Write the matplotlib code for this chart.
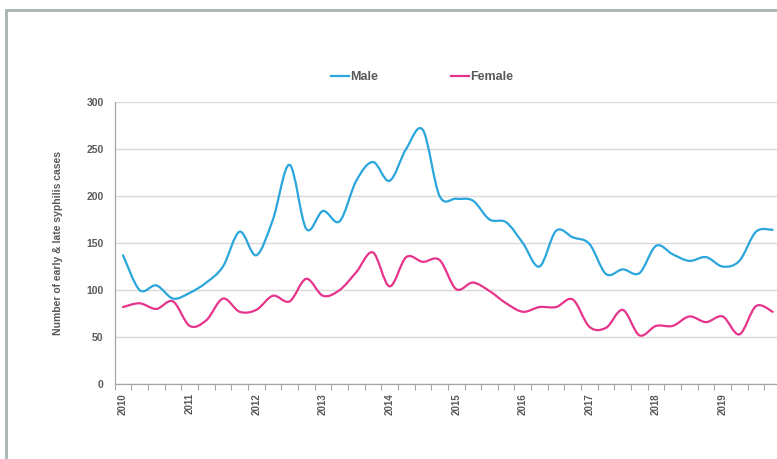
import matplotlib
matplotlib.use("Agg")
import matplotlib.pyplot as plt
import numpy as np
from matplotlib.path import Path
from matplotlib.patches import PathPatch, Rectangle
from matplotlib.lines import Line2D

years = [str(y) for y in range(2010, 2020)]
male = [137, 100, 105, 91, 97, 108, 125, 162, 137, 175,
        233, 165, 184, 173, 216, 236, 216, 250, 270, 200,
        197, 195, 175, 172, 150, 125, 163, 156, 149, 117,
        122, 118, 147, 138, 131, 135, 125, 131, 162, 164]
female = [82, 86, 80, 88, 62, 68, 91, 77, 79, 94,
          88, 112, 94, 100, 119, 140, 104, 135, 130, 132,
          101, 108, 99, 86, 77, 82, 82, 90, 61, 60,
          79, 52, 62, 62, 72, 66, 72, 53, 83, 77]

male_col = "#2ba6dc"
female_col = "#e6338b"
txt = "#595959"
plt.rcParams['font.family'] = ['Liberation Sans', 'DejaVu Sans']


def smooth_path(ys):
    # excel-style smoothed line: cubic bezier through each point
    x = np.arange(len(ys), dtype=float)
    y = np.asarray(ys, dtype=float)
    n = len(y)
    verts = [(x[0], y[0])]
    codes = [Path.MOVETO]
    for i in range(n - 1):
        a = max(i - 1, 0)
        b = min(i + 2, n - 1)
        c1 = (x[i] + (x[i + 1] - x[a]) / 6, y[i] + (y[i + 1] - y[a]) / 6)
        c2 = (x[i + 1] - (x[b] - x[i]) / 6, y[i + 1] - (y[b] - y[i]) / 6)
        verts += [c1, c2, (x[i + 1], y[i + 1])]
        codes += [Path.CURVE4] * 3
    return Path(verts, codes)


fig = plt.figure(figsize=(7.77, 4.59), dpi=100)
ax = fig.add_axes([114.7 / 777, 1 - 384.3 / 459, (781 - 114.7) / 777, (384.3 - 101.7) / 459])

for ys, col in ((male, male_col), (female, female_col)):
    ax.add_patch(PathPatch(smooth_path(ys), facecolor="none", edgecolor=col, lw=1.6,
                           capstyle="round", joinstyle="round", zorder=3))

ax.set_xlim(-0.5, len(male) - 0.5)
ax.set_ylim(0, 300)
ax.set_yticks(range(0, 301, 50))
ax.yaxis.grid(True, color="#d9d9d9", lw=1)
ax.set_axisbelow(True)
ax.tick_params(axis="y", length=0, pad=8, labelsize=7.5, labelcolor=txt)
ax.set_xticks(range(0, len(male), 4))
ax.set_xticklabels(years, rotation=90)
ax.set_xticks(np.arange(-0.5, len(male), 1), minor=True)
ax.tick_params(axis="x", which="major", length=0, pad=6.5, labelsize=7, labelcolor=txt)
ax.tick_params(axis="x", which="minor", length=4, color="#a6a6a6", width=0.8)
for lab in ax.get_xticklabels() + ax.get_yticklabels():
    lab.set_fontweight("bold")
for s in ("top", "right"):
    ax.spines[s].set_visible(False)
for s in ("left", "bottom"):
    ax.spines[s].set_color("#a6a6a6")
    ax.spines[s].set_linewidth(0.9)

ax.set_ylabel("Number of early & late syphilis cases", fontsize=7.5, fontweight="bold",
              color=txt, labelpad=17)

handles = [Line2D([], [], color=male_col, lw=1.6), Line2D([], [], color=female_col, lw=1.6)]
fig.legend(handles, ["Male", "Female"], loc="center", bbox_to_anchor=(422 / 777, 1 - 77 / 459),
           ncol=2, frameon=False, handlelength=1.45, handletextpad=0.1, columnspacing=5.8,
           prop={"size": 9, "weight": "bold"}, labelcolor=txt)

# outer chart frame (cropped at right and bottom)
fig.patches.append(Rectangle((6 / 777, -0.1), 1.2, 1 - 10 / 459 + 0.1, transform=fig.transFigure,
                             fill=False, edgecolor="#a5b3b3", lw=2))

fig.savefig("out.png", dpi=100)
